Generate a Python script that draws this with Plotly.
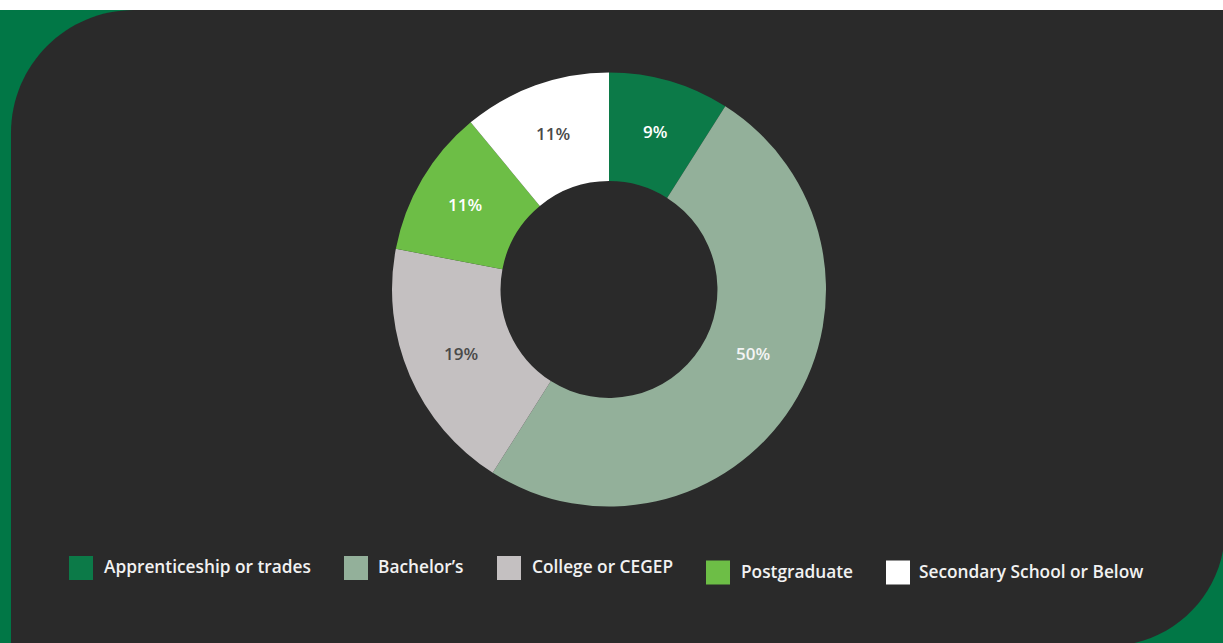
import math
import plotly.graph_objects as go

# Education breakdown
categories = ["Apprenticeship or trades", "Bachelor’s", "College or CEGEP",
              "Postgraduate", "Secondary School or Below"]
shares = [9, 50, 19, 11, 11]
slice_colors = ["#0c7a48", "#93b09a", "#c4c0c1", "#6dbe46", "#ffffff"]
label_colors = ["#ffffff", "#f4f4f4", "#4a4a4a", "#ffffff", "#4a4a4a"]

# Legend layout (pixel positions of the swatches and their captions)
legend_sq_x = [69, 344, 497, 706, 886]
legend_sq_cy = [568, 568, 568, 572.5, 572.5]
legend_text_x = [102, 376, 530, 739, 917]

# Percentage label placement: radius from the donut centre and angular nudge
label_radius = [165, 157, 161, 167, 166]
label_angle_nudge = [0, -8.5, 0, 0, 0]

W, H = 1223, 643
FONT = "Open Sans"
BG_DARK = "#2a2a2a"
BG_GREEN = "#017746"

# Donut geometry in pixels
CX, CY, R = 609, 289.5, 217


def px(x):
    return x / W


def py(y):
    return 1 - y / H


def pt(x, y):
    return f"{px(x):.5f},{py(y):.5f}"


# Dark panel with a rounded top-left and bottom-right corner
k = 0.5523
r1, c1 = 123, (134, 133)
r2, c2 = 117, (1108, 529)
panel_path = (
    f"M {pt(11, 646)} L {pt(11, c1[1])} "
    f"C {pt(11, c1[1] - k * r1)} {pt(c1[0] - k * r1, 10)} {pt(c1[0], 10)} "
    f"L {pt(c2[0] + r2, 10)} L {pt(c2[0] + r2, c2[1])} "
    f"C {pt(c2[0] + r2, c2[1] + k * r2)} {pt(c2[0] + k * r2, c2[1] + r2)} {pt(c2[0], c2[1] + r2)} Z"
)

shapes = [
    dict(type="rect", xref="paper", yref="paper", x0=0, x1=1, y0=0, y1=py(10),
         fillcolor=BG_GREEN, line=dict(width=0), layer="below"),
    dict(type="path", xref="paper", yref="paper", path=panel_path,
         fillcolor=BG_DARK, line=dict(width=0), layer="below"),
]

annotations = []
for name, col, sx, cy, tx in zip(categories, slice_colors, legend_sq_x, legend_sq_cy, legend_text_x):
    shapes.append(dict(type="rect", xref="paper", yref="paper",
                       x0=px(sx), x1=px(sx + 24), y0=py(cy + 12), y1=py(cy - 12),
                       fillcolor=col, line=dict(width=0), layer="above"))
    annotations.append(dict(xref="paper", yref="paper", x=px(tx), y=py(cy - 1.5),
                            xanchor="left", yanchor="middle", showarrow=False,
                            text=name,
                            font=dict(family=FONT, size=17.3, color="#f2f2f2", weight=600)))

# Percentage labels placed along each slice's bisector (clockwise from 12 o'clock)
total = sum(shares)
cum = 0
for s, lc, rad, nudge in zip(shares, label_colors, label_radius, label_angle_nudge):
    mid = (cum + s / 2) / total * 360 + nudge
    cum += s
    ang = math.radians(mid)
    lx = CX + rad * math.sin(ang)
    ly = CY - rad * math.cos(ang)
    annotations.append(dict(xref="paper", yref="paper", x=px(lx), y=py(ly),
                            xanchor="center", yanchor="middle", showarrow=False,
                            text=f"{s}%",
                            font=dict(family=FONT, size=17, color=lc, weight=600)))

fig = go.Figure(go.Pie(
    labels=categories,
    values=shares,
    hole=0.5,
    sort=False,
    direction="clockwise",
    rotation=0,
    marker=dict(colors=slice_colors, line=dict(width=0)),
    textinfo="none",
    domain=dict(x=[px(CX - R), px(CX + R)], y=[py(CY + R), py(CY - R)]),
    showlegend=False,
    hoverinfo="label+percent",
))

fig.update_layout(
    width=W, height=H,
    margin=dict(l=0, r=0, t=0, b=0),
    paper_bgcolor="#ffffff",
    plot_bgcolor="rgba(0,0,0,0)",
    shapes=shapes,
    annotations=annotations,
    showlegend=False,
)

fig.write_html("out.html")
